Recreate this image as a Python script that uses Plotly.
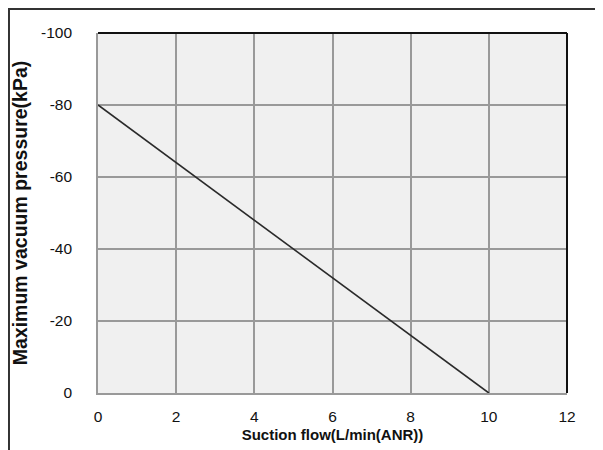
import plotly.graph_objects as go

flow = [0, 10]
pressure = [-80, 0]
x_ticks = [0, 2, 4, 6, 8, 10, 12]
y_ticks = [-100, -80, -60, -40, -20, 0]
y_tick_text = ["-100", "-80", "-60", "-40", "-20", "0"]

fig = go.Figure()
fig.add_trace(go.Scatter(x=flow, y=pressure, mode="lines",
                         line=dict(color="#2a2a2a", width=1.6), showlegend=False))

font = dict(family="Liberation Sans, Arial, sans-serif", size=15, color="#111111")
fig.update_layout(
    width=595, height=442,
    margin=dict(l=90, r=36, t=25, b=57),
    paper_bgcolor="white", plot_bgcolor="#f0f0f0",
    font=font,
    xaxis=dict(range=[0, 12], tickvals=x_ticks, showgrid=True, gridcolor="#999999", gridwidth=1.6,
               zeroline=False, showline=True, linecolor="#999999", linewidth=1.6,
               ticks="outside", ticklen=9, tickcolor="rgba(0,0,0,0)", tickfont=dict(size=15.5),
               automargin=False,
               title=dict(text="<b>Suction flow(L/min(ANR))</b>", font=dict(size=15), standoff=5)),
    yaxis=dict(range=[0, -100], tickvals=y_ticks, ticktext=y_tick_text, showgrid=True,
               gridcolor="#999999", gridwidth=1.6,
               zeroline=False, showline=True, linecolor="#999999", linewidth=1.6,
               ticks="outside", ticklen=21, tickcolor="rgba(0,0,0,0)", tickfont=dict(size=15.5),
               automargin=False,
               title=dict(text="<b>Maximum vacuum pressure(kPa)</b>", font=dict(size=19.5), standoff=8)),
    shapes=[
        dict(type="line", xref="paper", yref="paper", x0=0, x1=1, y0=1, y1=1,
             line=dict(color="#111111", width=2)),
        dict(type="line", xref="paper", yref="paper", x0=1, x1=1, y0=0, y1=1,
             line=dict(color="#111111", width=2)),
        dict(type="rect", xref="paper", yref="paper", x0=-0.1898, x1=1.3, y0=-0.3, y1=1.0667,
             line=dict(color="#333333", width=2)),
    ],
)
fig.write_html("out.html")
